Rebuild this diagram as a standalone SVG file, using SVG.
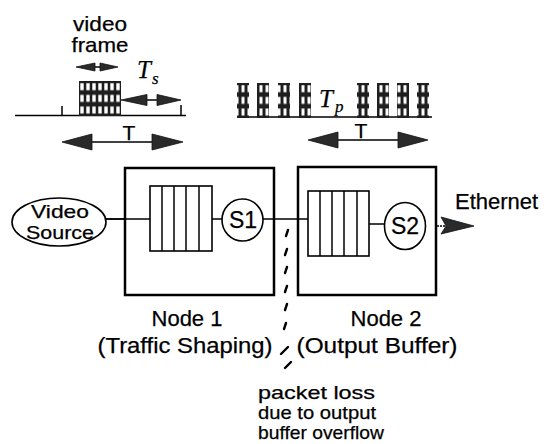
<svg xmlns="http://www.w3.org/2000/svg" width="555" height="444" viewBox="0 0 555 444">
<style>
text{font-family:"Liberation Sans",Arial,sans-serif;fill:#000;stroke:#000;stroke-width:0.25;}
.lbl{font-size:22px;}
.it{font-family:"Liberation Serif","Times New Roman",serif;font-style:italic;}
.box{fill:#fff;stroke:#000;stroke-width:2.5;}
.q{fill:#fff;stroke:#000;stroke-width:1.6;}
.el{fill:#fff;stroke:#000;stroke-width:1.6;}
.ln{stroke:#000;stroke-width:1.5;fill:none;}
.head{fill:#2a2a2a;stroke:#111;stroke-width:0.8;}
.dash{stroke:#000;stroke-width:2.4;stroke-linecap:round;}
</style>
<defs>
<pattern id="frameCells" x="79" y="81" width="6" height="11.67" patternUnits="userSpaceOnUse">
<rect width="6" height="11.67" fill="#1e1e1e"/>
<rect x="1.3" y="2.2" width="3.4" height="7" fill="#fff"/>
</pattern>
<pattern id="pktCells" x="0" y="83" width="6" height="11.67" patternUnits="userSpaceOnUse">
<rect width="6" height="11.67" fill="#1e1e1e"/>
<rect x="1.5" y="2.2" width="3" height="7" fill="#fff"/>
</pattern>
</defs>

<!-- left timeline: video frame -->
<g id="video-frame-timeline">
<text x="100" y="31" text-anchor="middle" font-size="21" textLength="54" lengthAdjust="spacingAndGlyphs">video</text>
<text x="100" y="52" text-anchor="middle" font-size="21" textLength="57" lengthAdjust="spacingAndGlyphs">frame</text>
<line class="ln" x1="95" y1="67" x2="100" y2="67"/>
<polygon class="head" points="76,67 95,63 95,71"/>
<polygon class="head" points="118,67 100,63 100,71"/>
<line class="ln" x1="15" y1="115.5" x2="186" y2="115.5" stroke-width="2"/>
<line class="ln" x1="62" y1="106" x2="62" y2="115"/>
<line class="ln" x1="181" y1="105" x2="181" y2="115"/>
<rect x="79" y="81" width="42" height="35" fill="url(#frameCells)"/>
<line class="ln" x1="147" y1="100" x2="157" y2="100"/>
<polygon class="head" points="121,100 147,94.5 147,105.5"/>
<polygon class="head" points="181,100 157,94.5 157,105.5"/>
<text class="it" x="137" y="78" font-size="25">T</text>
<text class="it" x="152" y="84" font-size="17">s</text>
<line class="ln" x1="92" y1="142" x2="152" y2="142"/>
<polygon class="head" points="62,142 92,134 92,150"/>
<polygon class="head" points="183,142 152,134 152,150"/>
<text x="129" y="140" font-size="21" text-anchor="middle">T</text>
</g>

<!-- right timeline: packets -->
<g id="packet-timeline">
<line class="ln" x1="248" y1="117" x2="432" y2="117" stroke-width="2"/>
<rect x="237" y="83" width="12" height="35" fill="url(#pktCells)"/>
<rect x="257" y="83" width="12" height="35" fill="url(#pktCells)"/>
<rect x="278" y="83" width="12" height="35" fill="url(#pktCells)"/>
<rect x="299" y="83" width="12" height="35" fill="url(#pktCells)"/>
<rect x="357" y="83" width="12" height="35" fill="url(#pktCells)"/>
<rect x="377" y="83" width="12" height="35" fill="url(#pktCells)"/>
<rect x="397" y="83" width="12" height="35" fill="url(#pktCells)"/>
<rect x="417" y="83" width="12" height="35" fill="url(#pktCells)"/>
<text class="it" x="319" y="107" font-size="25">T</text>
<text class="it" x="335" y="112" font-size="17">p</text>
<line class="ln" x1="338" y1="140" x2="398" y2="140"/>
<polygon class="head" points="308,140 338,132 338,148"/>
<polygon class="head" points="428,140 398,132 398,148"/>
<text x="361" y="138" font-size="21" text-anchor="middle">T</text>
</g>

<!-- connectors -->
<g id="connectors">
<line class="ln" x1="106" y1="219" x2="150" y2="219"/>
<line class="ln" x1="212" y1="219" x2="222" y2="219"/>
<line class="ln" x1="263" y1="219" x2="308" y2="219"/>
<line class="ln" x1="369" y1="224" x2="384" y2="224"/>
<line class="ln" x1="425" y1="226" x2="446" y2="226" stroke-dasharray="2 1"/>
<polygon class="head" points="441,217 474,226 441,234 446,226"/>
</g>

<g id="loss-marker">
<line class="dash" x1="288" y1="230" x2="286" y2="236"/>
<line class="dash" x1="287" y1="249" x2="285" y2="255"/>
<line class="dash" x1="287" y1="267" x2="285" y2="273"/>
<line class="dash" x1="287" y1="286" x2="285" y2="292"/>
<line class="dash" x1="287" y1="304" x2="285" y2="310"/>
<line class="dash" x1="286" y1="323" x2="284" y2="329"/>
<line class="dash" x1="288" y1="347" x2="281" y2="354"/>
<line class="dash" x1="291" y1="362" x2="285" y2="368"/>
</g>

<g id="video-source">
<ellipse class="el" cx="59" cy="222" rx="47" ry="24"/>
<text x="60" y="217.5" font-size="19" text-anchor="middle" textLength="58" lengthAdjust="spacingAndGlyphs">Video</text>
<text x="60" y="238.5" font-size="19" text-anchor="middle" textLength="68" lengthAdjust="spacingAndGlyphs">Source</text>
</g>

<g id="node1">
<rect class="box" x="125" y="168" width="149" height="127"/>
<rect class="q" x="150" y="186" width="62" height="65"/>
<line class="ln" x1="162" y1="186" x2="162" y2="251"/>
<line class="ln" x1="174" y1="186" x2="174" y2="251"/>
<line class="ln" x1="186" y1="186" x2="186" y2="251"/>
<line class="ln" x1="199" y1="186" x2="199" y2="251"/>
<ellipse class="el" cx="242.5" cy="220" rx="20.5" ry="21"/>
<text x="243" y="228" font-size="23" text-anchor="middle">S1</text>
<line class="ln" x1="106" y1="219" x2="150" y2="219"/>
<line class="ln" x1="212" y1="219" x2="222" y2="219"/>
<line class="ln" x1="263" y1="219" x2="274" y2="219"/>
<text class="lbl" x="187" y="326" text-anchor="middle" font-size="23">Node 1</text>
<text class="lbl" x="185" y="353" text-anchor="middle" font-size="23" textLength="175" lengthAdjust="spacingAndGlyphs">(Traffic Shaping)</text>
</g>

<g id="node2">
<rect class="box" x="298" y="167" width="138" height="128"/>
<rect class="q" x="308" y="191" width="61" height="65"/>
<line class="ln" x1="320" y1="191" x2="320" y2="256"/>
<line class="ln" x1="332" y1="191" x2="332" y2="256"/>
<line class="ln" x1="344" y1="191" x2="344" y2="256"/>
<line class="ln" x1="357" y1="191" x2="357" y2="256"/>
<line class="ln" x1="298" y1="219" x2="308" y2="219"/>
<line class="ln" x1="369" y1="224" x2="384" y2="224"/>
<ellipse class="el" cx="405" cy="226" rx="20.5" ry="23.5"/>
<text x="405" y="234" font-size="23" text-anchor="middle">S2</text>
<text class="lbl" x="386" y="326" text-anchor="middle" font-size="23">Node 2</text>
<text class="lbl" x="377" y="353" text-anchor="middle" font-size="23" textLength="161" lengthAdjust="spacingAndGlyphs">(Output Buffer)</text>
</g>

<g id="ethernet">
<text class="lbl" x="455" y="209" font-size="22">Ethernet</text>
</g>

<g id="loss-label">
<text x="258" y="399" font-size="19" textLength="117" lengthAdjust="spacingAndGlyphs">packet loss</text>
<text x="258" y="419" font-size="19" textLength="118" lengthAdjust="spacingAndGlyphs">due to output</text>
<text x="258" y="439" font-size="19" textLength="126" lengthAdjust="spacingAndGlyphs">buffer overflow</text>
</g>
</svg>
